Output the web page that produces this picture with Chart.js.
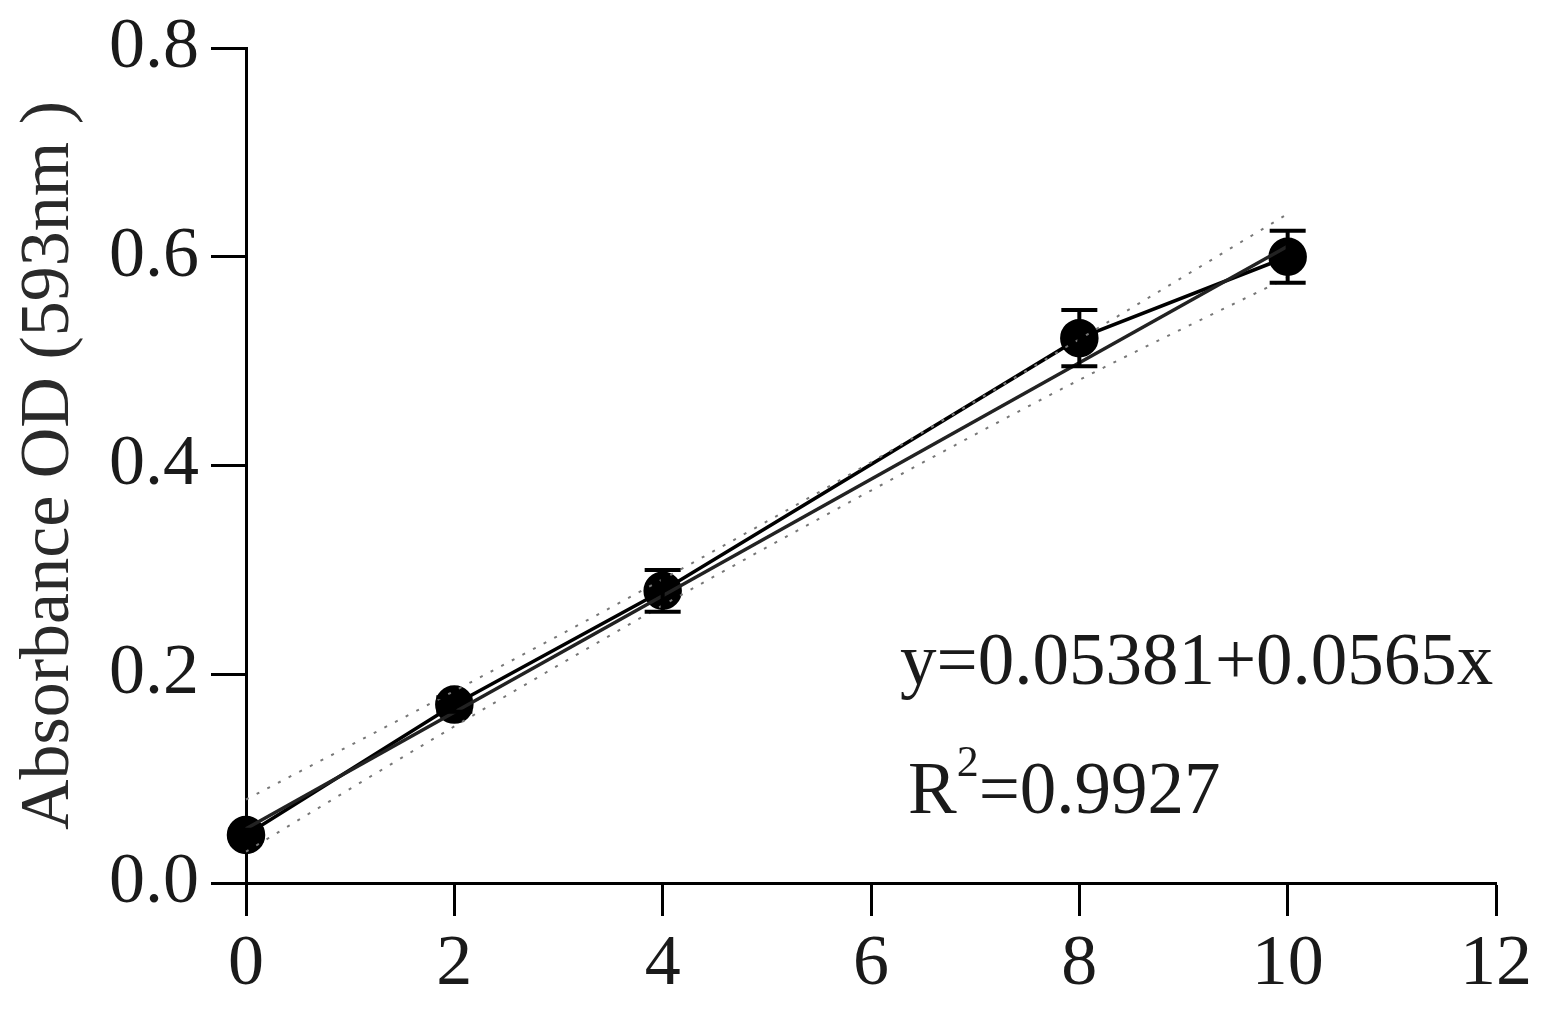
<!DOCTYPE html>
<html>
<head>
<meta charset="utf-8">
<script src="https://cdn.jsdelivr.net/npm/chart.js@4"></script>
<style>
  html, body { margin: 0; padding: 0; background: #fff; }
  #wrap { width: 1555px; height: 1018px; position: relative; }
</style>
</head>
<body>
<div id="wrap"><canvas id="chart" width="1555" height="1018"></canvas></div>
<script>
// concentration (x) and absorbance readings
const xValues = [0, 2, 4, 8, 10];
const yValues = [0.046, 0.171, 0.280, 0.522, 0.600];
const yErrors = [0.005, 0.007, 0.020, 0.027, 0.025];

// linear fit end points and the dotted confidence band
const fitX = [0, 10];
const fitY = [0.052, 0.610];
const bandX = [0, 2, 4, 6, 8, 10];
const bandUpper = [0.080, 0.184, 0.291, 0.403, 0.521, 0.641];
const bandLower = [0.030, 0.150, 0.266, 0.376, 0.482, 0.580];

const xTicks = [0, 2, 4, 6, 8, 10, 12];
const yTicks = [0, 0.2, 0.4, 0.6, 0.8];

const serif = "'Liberation Serif', 'DejaVu Serif', serif";

const toPoints = (xs, ys) => xs.map((x, i) => ({ x: x, y: ys[i] }));

// error bars with caps
const errorBars = {
    id: 'errorBars',
    afterDatasetsDraw(chart) {
        const ctx = chart.ctx;
        const xs = chart.scales.x, ys = chart.scales.y;
        ctx.save();
        ctx.strokeStyle = '#000';
        ctx.lineWidth = 4;
        xValues.forEach((x, i) => {
            const px = xs.getPixelForValue(x);
            const top = ys.getPixelForValue(yValues[i] + yErrors[i]);
            const bot = ys.getPixelForValue(yValues[i] - yErrors[i]);
            ctx.beginPath();
            ctx.moveTo(px, top); ctx.lineTo(px, bot);
            ctx.moveTo(px - 18, top); ctx.lineTo(px + 18, top);
            ctx.moveTo(px - 18, bot); ctx.lineTo(px + 18, bot);
            ctx.stroke();
        });
        ctx.restore();
    }
};

// equation and R squared text
const equationText = {
    id: 'equationText',
    afterDraw(chart) {
        const ctx = chart.ctx;
        ctx.save();
        ctx.fillStyle = '#1a1a1a';
        ctx.textBaseline = 'alphabetic';
        ctx.textAlign = 'left';
        ctx.font = '73px ' + serif;
        ctx.fillText('y=0.05381+0.0565x', 900, 684);
        ctx.fillText('R', 908, 813);
        let w = ctx.measureText('R').width;
        ctx.font = '44px ' + serif;
        ctx.fillText('2', 908 + w, 776);
        let w2 = ctx.measureText('2').width;
        ctx.font = '73px ' + serif;
        ctx.fillText('=0.9927', 908 + w + w2, 813);
        ctx.restore();
    }
};

const ctx = document.getElementById('chart').getContext('2d');
new Chart(ctx, {
    type: 'scatter',
    data: {
        datasets: [
            {
                label: 'upper band',
                data: toPoints(bandX, bandUpper),
                showLine: true,
                borderColor: '#777',
                borderWidth: 2,
                borderDash: [3, 9],
                pointRadius: 0,
                cubicInterpolationMode: 'monotone',
                clip: false
            },
            {
                label: 'lower band',
                data: toPoints(bandX, bandLower),
                showLine: true,
                borderColor: '#777',
                borderWidth: 2,
                borderDash: [3, 9],
                pointRadius: 0,
                cubicInterpolationMode: 'monotone',
                clip: false
            },
            {
                label: 'fit',
                data: toPoints(fitX, fitY),
                showLine: true,
                borderColor: '#222',
                borderWidth: 3.5,
                pointRadius: 0,
                clip: false
            },
            {
                label: 'absorbance',
                data: toPoints(xValues, yValues),
                showLine: true,
                borderColor: '#000',
                borderWidth: 3.5,
                backgroundColor: '#000',
                pointBackgroundColor: '#000',
                pointBorderColor: '#000',
                pointRadius: 17.5,
                clip: false
            }
        ]
    },
    options: {
        responsive: false,
        animation: false,
        layout: { padding: { top: 10, right: 59, left: 0, bottom: 0 } },
        plugins: {
            legend: { display: false },
            tooltip: { enabled: false }
        },
        scales: {
            x: {
                type: 'linear',
                min: 0,
                max: 12,
                afterBuildTicks: (scale) => { scale.ticks = xTicks.map(v => ({ value: v })); },
                afterFit: (scale) => { scale.height = 135; },
                border: { display: true, color: '#000', width: 3 },
                grid: {
                    drawOnChartArea: false,
                    drawTicks: true,
                    tickLength: 33,
                    tickWidth: 3,
                    tickColor: '#000'
                },
                ticks: {
                    color: '#1a1a1a',
                    padding: 6,
                    maxRotation: 0,
                    font: { family: serif, size: 72 },
                    callback: (v) => v
                }
            },
            y: {
                type: 'linear',
                min: 0,
                max: 0.8,
                afterBuildTicks: (scale) => { scale.ticks = yTicks.map(v => ({ value: v })); },
                afterFit: (scale) => { scale.width = 246; },
                border: { display: true, color: '#000', width: 3 },
                grid: {
                    drawOnChartArea: false,
                    drawTicks: true,
                    tickLength: 35,
                    tickWidth: 3,
                    tickColor: '#000'
                },
                ticks: {
                    color: '#1a1a1a',
                    padding: 12,
                    font: { family: serif, size: 72, lineHeight: 1.0 },
                    callback: (v) => v.toFixed(1)
                },
                title: {
                    display: true,
                    text: 'Absorbance OD (593nm )',
                    color: '#2a2a2a',
                    font: { family: serif, size: 70 },
                    padding: { top: 8, bottom: 0 }
                }
            }
        }
    },
    plugins: [errorBars, equationText]
});
</script>
</body>
</html>
